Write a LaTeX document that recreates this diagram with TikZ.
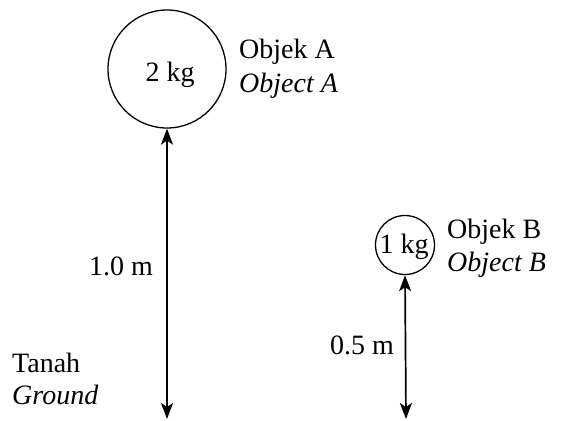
\documentclass[tikz,border=0pt]{standalone}
\usepackage{fontspec}
\setmainfont{Liberation Serif}
\usetikzlibrary{arrows.meta}
\begin{document}
\begin{tikzpicture}[x=1pt,y=-1pt,
  every node/.style={font=\fontsize{28}{33}\selectfont, inner sep=0pt},
  mass/.style={draw, circle, line width=1.3pt},
  dim/.style={line width=1.7pt, {Stealth[length=16pt,width=12pt,inset=4pt]}-{Stealth[length=16pt,width=12pt,inset=4pt]}},
  lbl/.style={anchor=base west}]
\useasboundingbox (0,0) rectangle (569,420);
% Object A
\node[mass, minimum size=118pt] (A) at (167,69) {};
\node[anchor=base] (mA) at (170,81) {2 kg};
\node[lbl] (oA1) at (239,58) {Objek A};
\node[lbl] (oA2) at (239,92) {\textit{Object A}};
\coordinate (gA) at (167,419);
\draw[dim] (A.south) -- (gA);
\node[anchor=base east] (hA) at (153,275) {1.0 m};
% Object B
\node[mass, minimum size=59pt] (B) at (405,245) {};
\node[anchor=base] (mB) at (404,253) {1 kg};
\node[lbl] (oB1) at (447,238) {Objek B};
\node[lbl] (oB2) at (447,271) {\textit{Object B}};
\coordinate (gB) at (406,419);
\draw[dim] (B.south) -- (gB);
\node[anchor=base east] (hB) at (394,354) {0.5 m};
% Ground
\node[lbl] (g1) at (12,372) {Tanah};
\node[lbl] (g2) at (12,404) {\textit{Ground}};
\end{tikzpicture}
\end{document}
